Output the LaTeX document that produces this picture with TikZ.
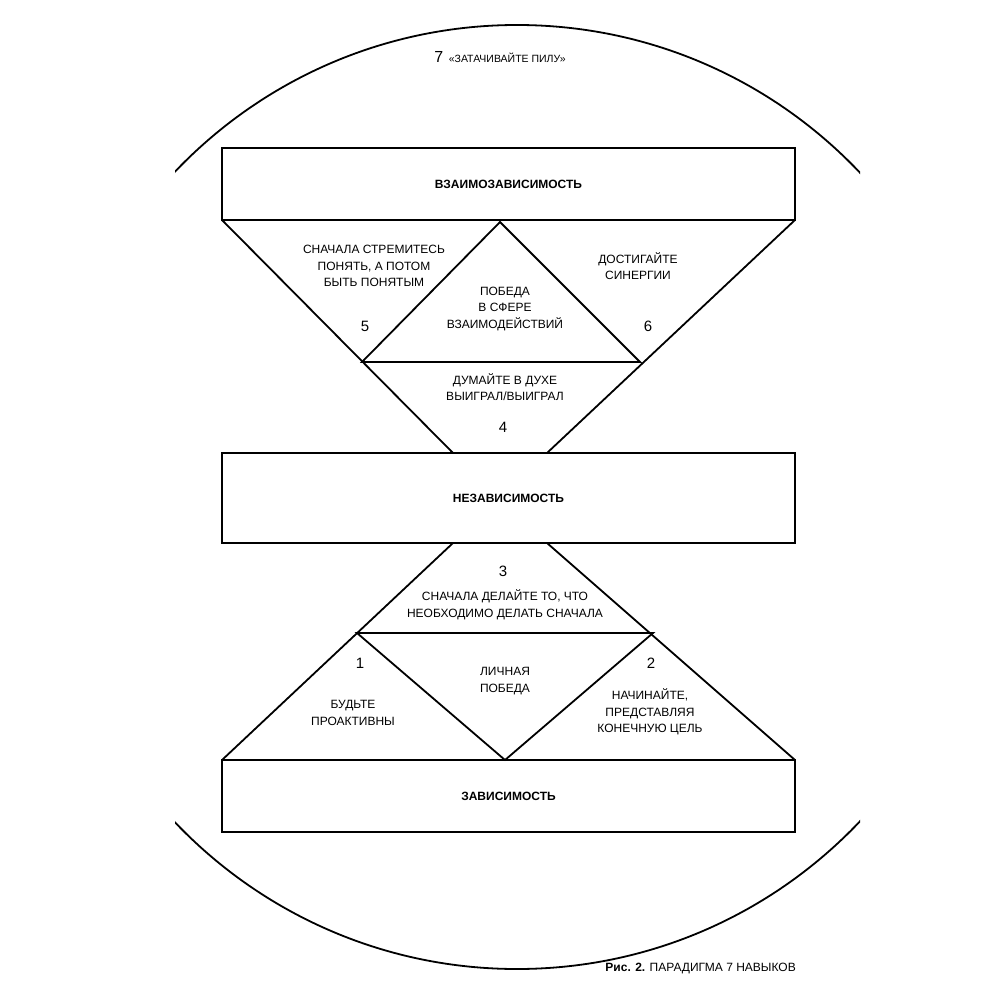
\documentclass[tikz,border=0pt]{standalone}
\usepackage{fontspec}
\setmainfont{Liberation Sans}
\begin{document}
\begin{tikzpicture}[x=1pt,y=-1pt,line width=1.8pt,line join=miter,
  box/.style={draw,minimum width=573pt,minimum height=72pt,font=\fontsize{12}{14}\selectfont\bfseries},
  lbl/.style={align=center,font=\fontsize{12}{16.5}\selectfont},
  num/.style={font=\fontsize{15}{16}\selectfont}]
\useasboundingbox (0,0) rectangle (1000,1000);
\begin{scope}
\clip (175,0) rectangle (860,1000);
\draw (517,497) circle (472);
\end{scope}
\node[box] (top) at (508.5,184) {ВЗАИМОЗАВИСИМОСТЬ};
\node[box,minimum height=90pt] (mid) at (508.5,498) {НЕЗАВИСИМОСТЬ};
\node[box] (bot) at (508.5,796) {ЗАВИСИМОСТЬ};
\coordinate (a1) at (222,220); \coordinate (a2) at (795,220);
\coordinate (a3) at (453,453); \coordinate (a4) at (547,453);
\coordinate (p) at (500,222); \coordinate (q1) at (362,362); \coordinate (q2) at (640,362);
\coordinate (b1) at (453,543); \coordinate (b2) at (547,543);
\coordinate (b3) at (222,760); \coordinate (b4) at (795,760);
\coordinate (r1) at (357,633); \coordinate (r2) at (653,633); \coordinate (r3) at (505,760);
\draw (a1) -- (a3) (a2) -- (a4);
\draw (q1) -- (p) -- (q2) -- cycle;
\draw (b1) -- (b3) (b2) -- (b4);
\draw (r1) -- (r3) -- (r2) -- cycle;
\node[lbl] (t5) at (374,266) {СНАЧАЛА СТРЕМИТЕСЬ\\ПОНЯТЬ, А ПОТОМ\\БЫТЬ ПОНЯТЫМ};
\node[lbl] (tw) at (505,309) {ПОБЕДА\\В СФЕРЕ\\ВЗАИМОДЕЙСТВИЙ};
\node[lbl] (t6) at (638,266) {ДОСТИГАЙТЕ\\СИНЕРГИИ};
\node[lbl] (t4) at (505,387) {ДУМАЙТЕ В ДУХЕ\\ВЫИГРАЛ/ВЫИГРАЛ};
\node[lbl] (t3) at (505,605) {СНАЧАЛА ДЕЛАЙТЕ ТО, ЧТО\\НЕОБХОДИМО ДЕЛАТЬ СНАЧАЛА};
\node[lbl] (tl) at (505,681) {ЛИЧНАЯ\\ПОБЕДА};
\node[lbl] (t1) at (353,713) {БУДЬТЕ\\ПРОАКТИВНЫ};
\node[lbl] (t2) at (650,712) {НАЧИНАЙТЕ,\\ПРЕДСТАВЛЯЯ\\КОНЕЧНУЮ ЦЕЛЬ};
\node[num] (n5) at (365,326) {5};
\node[num] (n6) at (648,326) {6};
\node[num] (n4) at (503,427) {4};
\node[num] (n3) at (503,571) {3};
\node[num] (n1) at (360,663) {1};
\node[num] (n2) at (651,663) {2};
\node (title) at (500,57) {{\fontsize{16}{18}\selectfont 7}\ \ {\fontsize{10.5}{12}\selectfont «ЗАТАЧИВАЙТЕ ПИЛУ»}};
\node[anchor=east] (cap) at (800,968) {\fontsize{12}{14}\selectfont\textbf{Рис. 2.} ПАРАДИГМА 7 НАВЫКОВ};
\end{tikzpicture}
\end{document}
